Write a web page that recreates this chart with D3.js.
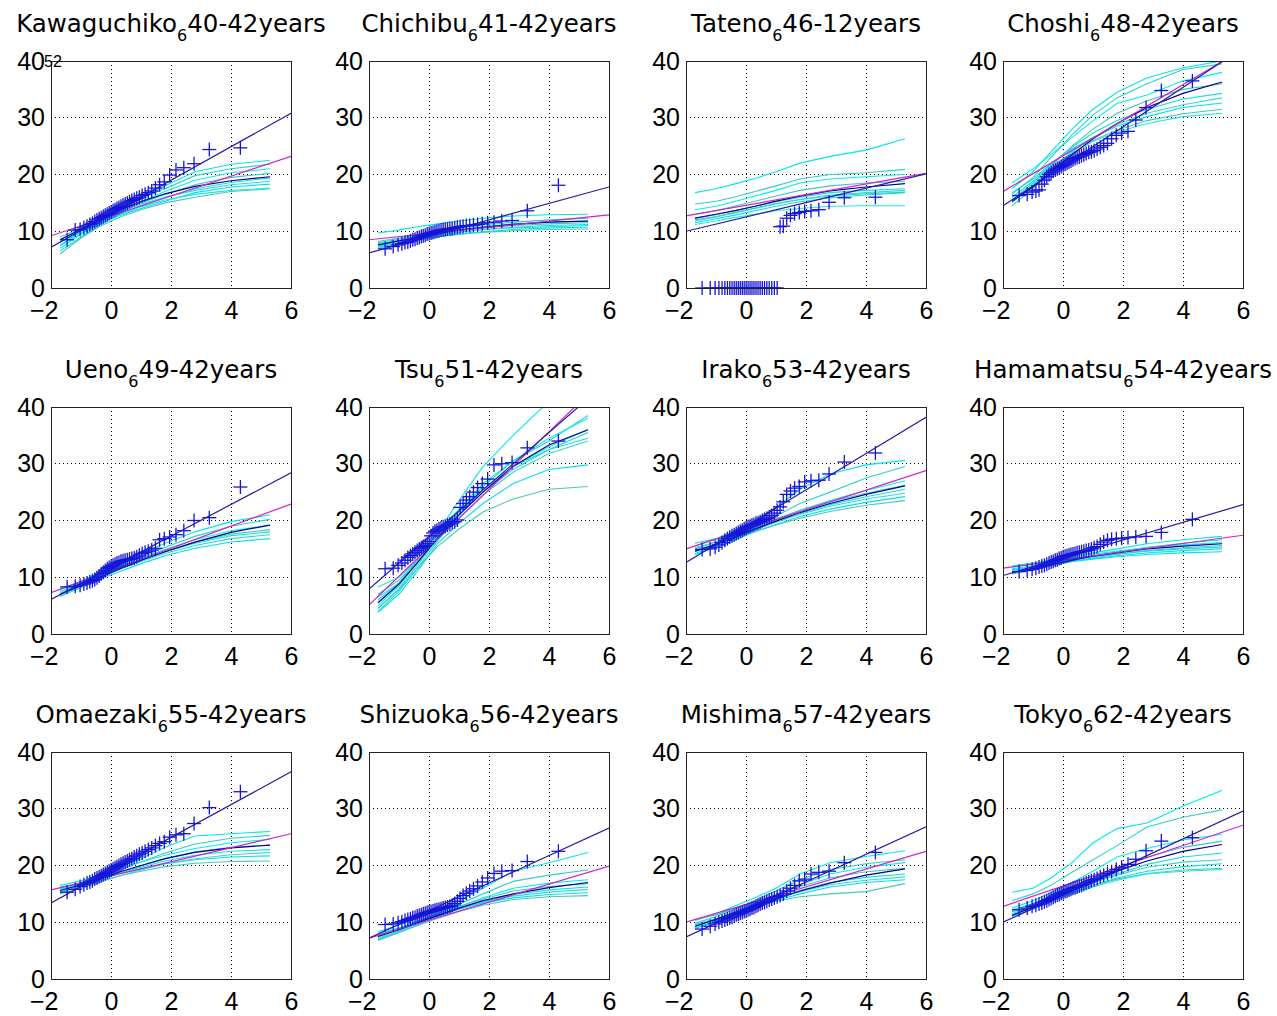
<!DOCTYPE html>
<html><head><meta charset="utf-8">
<script src="https://cdn.jsdelivr.net/npm/d3@7"></script>
<style>body{margin:0;background:#fff}svg{display:block}</style>
</head><body><svg id="c" width="1277" height="1016"></svg>
<script>
// ---------- data ----------
const stationNames = ["Kawaguchiko","Chichibu","Tateno","Choshi","Ueno","Tsu","Irako","Hamamatsu","Omaezaki","Shizuoka","Mishima","Tokyo"];
const stationSub = ["6","6","6","6","6","6","6","6","6","6","6","6"];
const stationTail = ["40-42years","41-42years","46-12years","48-42years","49-42years","51-42years","53-42years","54-42years","55-42years","56-42years","57-42years","62-42years"];
const xTicks = [-2, 0, 2, 4, 6];
const yTicks = [0, 10, 20, 30, 40];

// Gumbel reduced variate of each observed (ranked) annual maximum
const gumbelX = [-1.463,-1.193,-1.030,-0.904,-0.799,-0.706,-0.620,-0.541,-0.466,-0.394,-0.325,-0.257,-0.191,-0.125,-0.060,0.004,0.069,0.134,0.199,0.265,0.333,0.401,0.471,0.543,0.617,0.694,0.774,0.858,0.946,1.038,1.137,1.243,1.357,1.482,1.620,1.776,1.955,2.166,2.427,2.769,3.277,4.313];

const obsKawaguchiko = [8.5,10.2,10.3,10.6,10.9,11.2,11.4,11.7,12.0,12.2,12.4,12.6,12.8,13.0,13.2,13.4,13.6,13.8,14.0,14.2,14.4,14.6,14.8,15.0,15.2,15.4,15.6,15.8,16.0,16.3,16.5,16.8,17.1,17.6,18.2,18.7,19.9,20.8,21.2,21.9,24.4,24.7];
const obsChichibu = [6.9,7.3,7.6,7.8,8.0,8.1,8.3,8.5,8.6,8.8,8.9,9.1,9.2,9.3,9.5,9.6,9.7,9.8,9.9,10.0,10.1,10.2,10.3,10.3,10.4,10.5,10.5,10.6,10.7,10.8,10.9,11.0,11.0,11.1,11.2,11.3,11.5,11.6,11.8,11.9,13.6,18.1];
const obsTateno = [0,0,0,0,0,0,0,0,0,0,0,0,0,0,0,0,0,0,0,0,0,0,0,0,0,0,0,0,0,0,10.8,10.9,12.3,12.8,13.1,13.3,13.5,13.6,13.8,15.1,15.9,16.0];
const obsChoshi = [16.3,16.5,16.9,17.1,17.3,18.3,19.0,19.6,20.0,20.3,20.6,20.8,21.0,21.2,21.4,21.6,21.8,22.0,22.2,22.4,22.6,22.8,23.0,23.1,23.3,23.5,23.7,23.9,24.0,24.2,24.5,24.8,25.1,25.5,26.3,26.9,27.3,27.6,29.6,31.8,34.8,36.5];
const obsUeno = [8.3,8.4,8.6,8.8,9.0,9.2,9.4,9.6,9.9,10.2,10.6,10.9,11.2,11.5,11.7,11.9,12.1,12.3,12.5,12.6,12.8,12.9,13.0,13.1,13.2,13.3,13.4,13.6,13.9,14.2,14.4,14.6,14.8,15.1,16.6,16.8,17.1,17.5,18.2,20.0,20.5,25.9];
const obsTsu = [11.5,11.6,12.1,12.5,13.0,13.5,13.8,14.1,14.4,14.7,15.0,15.2,15.4,15.6,15.9,16.3,17.3,17.8,18.1,18.3,18.5,18.7,18.9,19.0,19.2,19.4,19.6,19.8,20.1,22.3,23.0,23.6,24.2,25.0,25.8,26.5,27.3,29.8,30.0,30.2,32.8,34.0];
const obsIrako = [14.9,15.0,15.3,15.7,16.1,16.5,16.8,17.1,17.3,17.5,17.7,17.9,18.1,18.3,18.5,18.7,18.9,19.0,19.2,19.3,19.5,19.6,19.8,20.0,20.2,20.4,20.6,20.9,21.3,21.8,22.4,23.3,24.6,25.2,25.7,26.0,26.8,27.0,27.1,28.2,30.3,31.9];
const obsHamamatsu = [11.0,11.2,11.4,11.6,11.8,12.0,12.1,12.3,12.5,12.7,12.8,13.0,13.1,13.3,13.4,13.6,13.7,13.8,13.9,14.0,14.1,14.2,14.3,14.4,14.5,14.6,14.7,14.8,15.0,15.2,15.4,15.8,16.2,16.5,16.7,16.8,16.9,17.0,17.1,17.2,17.9,20.2];
const obsOmaezaki = [15.3,15.8,16.3,16.6,16.9,17.1,17.3,17.6,17.8,18.0,18.2,18.4,18.6,18.8,19.0,19.2,19.4,19.6,19.8,20.0,20.2,20.4,20.6,20.8,21.0,21.2,21.5,21.7,22.0,22.2,22.5,22.8,23.1,23.5,23.9,24.2,25.0,25.4,25.6,27.4,30.2,33.0];
const obsShizuoka = [9.6,9.7,9.9,10.1,10.3,10.5,10.6,10.8,10.9,11.1,11.2,11.3,11.5,11.6,11.7,11.8,11.9,12.0,12.1,12.2,12.3,12.4,12.5,12.6,12.7,12.8,13.0,13.3,13.7,14.2,14.7,15.1,15.5,15.9,16.4,17.1,17.8,18.6,19.0,19.1,20.7,22.5];
const obsMishima = [8.8,9.3,9.7,10.0,10.2,10.4,10.6,10.8,10.9,11.1,11.3,11.4,11.6,11.7,11.9,12.0,12.2,12.3,12.5,12.6,12.8,13.0,13.2,13.4,13.5,13.7,13.9,14.1,14.3,14.5,14.7,15.0,15.5,16.0,16.5,17.3,17.6,18.5,18.8,19.0,20.5,22.3];
const obsTokyo = [12.2,12.5,12.8,13.0,13.2,13.4,13.6,13.8,14.0,14.2,14.4,14.6,14.8,14.9,15.1,15.2,15.4,15.5,15.7,15.8,16.0,16.1,16.2,16.4,16.5,16.7,16.9,17.1,17.3,17.5,17.7,18.0,18.3,18.6,18.9,19.3,19.7,20.2,21.1,22.6,24.3,24.9];

// straight fitted lines: value at x=-2 and at x=6
const obsFitEnds = [[7.2,30.8],[6.2,17.8],[10.0,20.1],[14.5,42.3],[6.1,28.4],[7.9,44.7],[12.6,38.2],[10.3,22.8],[13.4,36.5],[7.2,26.6],[7.4,26.8],[10.0,29.6]];
const modelFitEnds = [[9.2,23.2],[8.5,12.9],[12.7,20.2],[17.0,42.1],[7.3,22.9],[5.1,45.8],[15.0,28.8],[11.6,17.4],[15.7,25.6],[7.2,19.9],[10.0,22.5],[12.8,27.1]];
const fitX = [-2, 6];

// model ensemble members (Gumbel variate grid)
const ensX = [-1.7,-1,-0.4,0.3,1,1.8,2.8,4,5.3];
const ensKawaguchiko = [[7.5,10.0,12.0,14.0,16.0,18.0,20.5,21.8,22.5],[8.5,10.5,12.3,14.2,15.8,17.5,19.8,21.0,21.8],[7.0,9.5,11.5,13.5,15.2,17.0,19.0,20.3,21.0],[8.0,10.2,11.8,13.5,15.0,16.5,18.2,19.5,20.2],[6.5,9.0,11.0,13.0,14.6,16.0,17.5,18.6,19.4],[9.0,10.5,12.0,13.5,14.8,16.0,17.2,18.2,18.8],[7.5,9.5,11.2,12.8,14.0,15.3,16.8,17.8,18.3],[6.0,8.8,10.8,12.5,13.8,15.0,16.0,17.0,17.5],[8.2,9.8,11.3,12.9,14.3,15.5,16.5,17.2,17.6]];
const ensChichibu = [[9.7,10.2,10.8,11.3,11.8,12.3,12.7,12.9,13.0],[8.2,8.8,9.4,10.0,10.6,11.1,11.6,12.0,12.3],[7.5,8.3,9.0,9.7,10.3,10.8,11.3,11.6,11.8],[8.0,8.6,9.2,9.8,10.2,10.6,11.0,11.3,11.5],[7.2,7.9,8.6,9.3,9.8,10.3,10.7,11.0,11.2],[7.8,8.4,9.0,9.5,9.9,10.3,10.6,10.8,11.0],[7.0,7.7,8.4,9.0,9.5,9.9,10.3,10.6,10.7],[7.4,8.0,8.6,9.1,9.5,9.8,10.1,10.3,10.4]];
const ensTateno = [[16.8,17.5,18.3,19.3,20.5,22.0,23.2,24.3,26.3],[14.8,15.3,16.0,17.0,18.0,19.2,20.0,20.3,20.9],[13.8,14.4,15.2,16.2,17.2,18.5,19.2,19.6,20.0],[13.0,13.6,14.4,15.3,16.2,17.2,18.0,18.5,18.8],[12.3,12.9,13.6,14.4,15.2,16.0,16.8,17.2,17.5],[11.8,12.5,13.2,14.0,14.8,15.6,16.4,16.8,17.2],[11.5,12.2,12.8,13.6,14.4,15.2,15.9,16.4,16.8],[12.0,12.6,13.3,14.1,14.9,15.6,16.2,16.6,16.9],[11.2,11.8,12.4,13.0,13.6,14.0,14.4,14.5,14.5]];
const ensChoshi = [[17.5,20.5,24.0,28.0,31.5,34.5,37.0,38.8,40.0],[16.5,19.5,23.0,27.0,30.5,33.5,36.0,38.5,39.5],[18.5,21.0,23.5,26.5,29.5,32.5,34.0,36.5,38.0],[15.5,18.5,21.5,25.0,28.0,30.8,33.0,35.0,36.0],[16.0,18.8,21.8,24.8,27.3,29.5,31.5,33.3,34.3],[15.0,18.0,21.0,24.0,26.5,28.8,30.8,32.3,33.5],[16.8,19.2,22.0,24.5,26.5,28.5,30.2,31.8,32.6],[14.5,17.5,20.5,23.5,26.0,27.8,29.5,30.7,31.5],[15.2,18.2,21.0,23.8,25.8,27.5,29.0,30.2,30.8]];
const ensUeno = [[7.8,9.3,10.8,12.5,14.2,16.0,18.0,19.8,21.0],[7.2,8.8,10.3,12.0,13.6,15.3,17.2,19.0,20.2],[8.0,9.2,10.5,12.0,13.4,14.9,16.6,18.2,19.2],[6.8,8.4,9.9,11.5,13.0,14.5,16.2,17.6,18.4],[7.5,8.9,10.2,11.7,13.1,14.5,16.0,17.3,18.0],[7.0,8.5,9.9,11.4,12.8,14.2,15.6,16.8,17.5],[6.6,8.2,9.6,11.0,12.4,13.8,15.1,16.2,16.8]];
const ensTsu = [[6.0,9.0,13.0,18.0,23.5,29.5,35.0,41.0,44.0],[4.5,8.0,12.0,17.0,21.5,26.0,30.5,34.0,38.5],[5.0,8.5,12.5,17.5,22.0,26.5,30.5,34.5,38.0],[7.0,9.5,12.8,17.0,21.0,25.0,29.0,32.5,35.5],[4.0,7.5,11.5,16.5,21.0,25.5,29.5,32.5,34.5],[6.5,9.0,12.5,16.8,20.5,24.5,28.5,31.8,34.0],[3.8,7.0,11.0,16.0,19.5,23.0,26.5,29.0,29.8],[4.5,7.8,11.5,15.5,18.5,21.5,23.8,25.5,26.0],[8.3,10.0,13.0,17.5,21.5,25.5,29.5,33.0,36.0]];
const ensIrako = [[15.5,16.8,18.2,20.0,22.3,25.5,28.2,29.8,30.6],[15.0,16.2,17.5,19.0,20.8,23.0,25.0,27.5,29.5],[14.5,15.8,17.0,18.5,20.0,21.8,23.5,25.3,27.0],[16.0,16.8,17.8,19.0,20.3,21.8,23.3,24.8,26.2],[14.2,15.5,16.8,18.3,19.7,21.2,22.8,24.2,25.5],[15.2,16.2,17.3,18.6,19.8,21.1,22.5,23.8,24.8],[14.0,15.3,16.5,18.0,19.3,20.7,22.0,23.2,24.2],[14.8,15.8,16.9,18.1,19.2,20.4,21.6,22.7,23.5]];
const ensHamamatsu = [[11.8,12.3,12.9,13.6,14.3,15.0,15.9,16.6,17.2],[11.2,11.8,12.4,13.1,13.8,14.5,15.3,16.0,16.6],[12.0,12.5,13.0,13.6,14.1,14.6,15.2,15.7,16.1],[10.6,11.3,12.0,12.8,13.4,14.0,14.7,15.2,15.6],[11.5,12.0,12.5,13.1,13.6,14.1,14.6,15.0,15.3],[10.9,11.5,12.1,12.8,13.3,13.8,14.3,14.7,15.0],[11.3,11.8,12.3,12.8,13.2,13.6,14.0,14.3,14.5]];
const ensOmaezaki = [[16.0,17.0,18.2,19.7,21.2,23.2,25.2,25.6,26.0],[15.5,16.6,17.8,19.2,20.6,22.2,23.8,24.8,25.3],[16.5,17.3,18.3,19.5,20.6,21.8,23.0,24.0,24.6],[15.2,16.3,17.4,18.7,19.9,21.2,22.4,23.2,23.6],[15.8,16.7,17.6,18.7,19.7,20.8,21.8,22.5,22.8],[15.0,16.0,17.0,18.2,19.2,20.3,21.2,21.9,22.3],[16.2,16.9,17.7,18.6,19.4,20.3,21.0,21.5,21.7],[15.4,16.3,17.2,18.2,19.0,19.8,20.4,20.7,20.8]];
const ensShizuoka = [[8.3,9.5,10.8,12.2,13.8,16.0,19.0,20.5,22.3],[7.5,8.8,10.1,11.6,13.2,15.0,17.2,18.3,19.2],[7.0,8.4,9.7,11.2,12.7,14.3,16.0,16.9,17.5],[7.8,9.0,10.2,11.5,12.8,14.1,15.5,16.3,16.8],[6.8,8.2,9.5,11.0,12.3,13.6,14.9,15.7,16.2],[7.2,8.5,9.8,11.1,12.3,13.5,14.6,15.3,15.8],[8.0,9.0,10.1,11.3,12.4,13.4,14.3,14.9,15.2],[6.9,8.2,9.4,10.7,11.9,13.0,14.0,14.5,14.7]];
const ensMishima = [[10.3,11.5,12.8,14.3,16.0,18.5,20.5,21.6,22.6],[9.8,11.0,12.3,13.8,15.5,17.5,19.3,20.3,21.0],[9.2,10.5,11.8,13.3,14.8,16.6,18.5,19.7,20.5],[10.5,11.3,12.4,13.6,14.9,16.3,17.8,18.9,19.5],[8.9,10.2,11.4,12.8,14.2,15.6,17.0,17.9,18.5],[9.5,10.6,11.7,13.0,14.2,15.4,16.6,17.4,18.0],[9.0,10.2,11.3,12.6,13.8,15.0,16.2,17.0,17.5],[9.6,10.6,11.6,12.7,13.7,14.5,15.0,15.4,16.8]];
const ensTokyo = [[15.3,16.0,17.8,20.5,24.0,26.5,27.5,30.5,33.2],[13.8,15.0,16.5,18.8,21.0,23.5,26.8,28.5,29.8],[12.5,13.8,15.2,17.0,19.0,21.5,23.0,24.5,25.5],[12.0,13.3,14.6,16.2,17.8,19.5,21.5,23.2,24.3],[11.5,12.8,14.0,15.6,17.0,18.5,20.2,21.5,22.2],[12.2,13.2,14.3,15.7,17.0,18.3,19.7,20.6,21.0],[11.0,12.3,13.6,15.1,16.5,17.8,19.0,19.8,20.3],[11.8,12.9,14.0,15.3,16.5,17.6,18.6,19.2,19.5],[11.3,12.5,13.7,15.0,16.2,17.4,18.5,19.0,19.3]];

// ensemble-mean curve on the same grid
const meanKawaguchiko = [8.5,10.3,12.0,13.8,15.2,16.6,17.9,18.9,19.6];
const meanChichibu = [7.6,8.3,8.9,9.6,10.2,10.7,11.2,11.6,11.8];
const meanTateno = [12.3,13.0,13.6,14.4,15.3,16.2,17.1,17.8,18.4];
const meanChoshi = [15.3,17.8,20.5,23.5,26.3,29.0,31.8,34.3,36.3];
const meanUeno = [7.0,8.5,9.9,11.5,13.0,14.5,16.2,17.9,19.2];
const meanTsu = [5.5,8.8,12.5,17.0,21.0,25.0,29.5,33.3,36.0];
const meanIrako = [14.6,15.8,17.0,18.5,19.9,21.4,23.0,24.6,26.1];
const meanHamamatsu = [10.8,11.5,12.2,13.0,13.7,14.3,15.0,15.5,15.9];
const meanOmaezaki = [15.6,16.6,17.6,18.9,20.0,21.2,22.3,23.1,23.6];
const meanShizuoka = [7.5,8.7,9.9,11.2,12.5,13.8,15.0,16.1,17.0];
const meanMishima = [9.3,10.5,11.6,12.8,14.1,15.5,16.9,18.3,19.4];
const meanTokyo = [11.2,12.7,14.0,15.7,17.3,19.0,20.8,22.5,23.7];

const obsSeries = [obsKawaguchiko,obsChichibu,obsTateno,obsChoshi,obsUeno,obsTsu,obsIrako,obsHamamatsu,obsOmaezaki,obsShizuoka,obsMishima,obsTokyo];
const ensSeries = [ensKawaguchiko,ensChichibu,ensTateno,ensChoshi,ensUeno,ensTsu,ensIrako,ensHamamatsu,ensOmaezaki,ensShizuoka,ensMishima,ensTokyo];
const meanSeries = [meanKawaguchiko,meanChichibu,meanTateno,meanChoshi,meanUeno,meanTsu,meanIrako,meanHamamatsu,meanOmaezaki,meanShizuoka,meanMishima,meanTokyo];

// ---------- drawing ----------
const svg = d3.select("#c");
const colLeft = [51, 369, 686, 1003];
const rowTop = [61, 407, 752];
const W = 240, H = 227;
const FONT = "'Liberation Sans', Arial, sans-serif";
const TFONT = "'DejaVu Sans', Verdana, sans-serif";
const cyanShades = ["#00e8e8","#30d0c8","#00f0f0","#40c8c0","#10e0e0","#38d8d0","#00e0f0","#48c8b8","#20e8e0"];

stationNames.forEach((name, i) => {
  const r = Math.floor(i / 4), c = i % 4;
  const x0 = colLeft[c], y0 = rowTop[r];
  const g = svg.append("g").attr("transform", `translate(${x0},${y0})`);
  const x = d3.scaleLinear().domain([-2, 6]).range([0, W]);
  const y = d3.scaleLinear().domain([0, 40]).range([H, 0]);

  const clipId = "clip" + i;
  g.append("clipPath").attr("id", clipId).append("rect").attr("width", W).attr("height", H);

  // grid
  g.append("g").selectAll("line").data(xTicks.filter(t => t > -2 && t < 6)).join("line")
    .attr("x1", d => x(d)).attr("x2", d => x(d)).attr("y1", 0).attr("y2", H)
    .attr("stroke", "#000").attr("stroke-width", 1).attr("stroke-dasharray", "1,3")
    .attr("shape-rendering", "crispEdges");
  g.append("g").selectAll("line").data(yTicks.filter(t => t > 0 && t < 40)).join("line")
    .attr("x1", 0).attr("x2", W).attr("y1", d => y(d)).attr("y2", d => y(d))
    .attr("stroke", "#000").attr("stroke-width", 1).attr("stroke-dasharray", "1,3")
    .attr("shape-rendering", "crispEdges");

  const plot = g.append("g").attr("clip-path", `url(#${clipId})`);
  const line = d3.line().x(d => x(d[0])).y(d => y(d[1]));

  // ensemble members
  ensSeries[i].forEach((vals, k) => {
    plot.append("path").datum(ensX.map((xx, j) => [xx, vals[j]]))
      .attr("d", line).attr("fill", "none")
      .attr("stroke", cyanShades[k % cyanShades.length]).attr("stroke-width", 1.1);
  });
  // ensemble mean curve
  plot.append("path").datum(ensX.map((xx, j) => [xx, meanSeries[i][j]]))
    .attr("d", line).attr("fill", "none").attr("stroke", "#000090").attr("stroke-width", 1.2);
  // model fit (magenta)
  plot.append("path").datum(fitX.map((xx, j) => [xx, modelFitEnds[i][j]]))
    .attr("d", line).attr("fill", "none").attr("stroke", "#d020d0").attr("stroke-width", 1.2);
  // observation fit
  plot.append("path").datum(fitX.map((xx, j) => [xx, obsFitEnds[i][j]]))
    .attr("d", line).attr("fill", "none").attr("stroke", "#2a1aa0").attr("stroke-width", 1.2);

  // observed points as "+"
  const s = 7;
  const pts = g.append("g").attr("stroke", "#1515d8").attr("stroke-width", 1.3);
  obsSeries[i].forEach((v, j) => {
    const px = x(gumbelX[j]), py = y(v);
    pts.append("line").attr("x1", px - s).attr("x2", px + s).attr("y1", py).attr("y2", py);
    pts.append("line").attr("x1", px).attr("x2", px).attr("y1", py - s).attr("y2", py + s);
  });

  // frame
  g.append("rect").attr("width", W).attr("height", H).attr("fill", "none")
    .attr("stroke", "#222").attr("stroke-width", 1).attr("shape-rendering", "crispEdges");

  // axes labels
  const xAxis = d3.axisBottom(x).tickValues(xTicks).tickSize(0).tickPadding(13)
    .tickFormat(d => d < 0 ? "\u2212" + Math.abs(d) : String(d));
  const xa = g.append("g").attr("transform", `translate(0,${H})`).call(xAxis);
  xa.select(".domain").remove();
  xa.selectAll("text").attr("font-family", FONT).attr("font-size", 25).attr("fill", "#000");
  // negative labels: digit centred on the tick, minus sign hanging to the left
  xa.selectAll(".tick").filter(d => d < 0).select("text")
    .attr("text-anchor", "end").attr("x", 7);
  const yAxis = d3.axisLeft(y).tickValues(yTicks).tickSize(0).tickPadding(6);
  const ya = g.append("g").call(yAxis);
  ya.select(".domain").remove();
  ya.selectAll("text").attr("font-family", FONT).attr("font-size", 25).attr("fill", "#000");

  // title
  const t = g.append("text").attr("x", W / 2).attr("y", -29).attr("text-anchor", "middle")
    .attr("font-family", TFONT).attr("font-size", 24.5).attr("fill", "#000");
  t.append("tspan").text(name);
  t.append("tspan").attr("font-size", 16).attr("dy", 9).text(stationSub[i]);
  t.append("tspan").attr("dy", -9).text(stationTail[i]);

  if (i === 0) {
    g.append("text").attr("x", -7).attr("y", 6).attr("font-family", FONT)
      .attr("font-size", 16).attr("fill", "#000").text("52");
  }
});
</script>
</body></html>
